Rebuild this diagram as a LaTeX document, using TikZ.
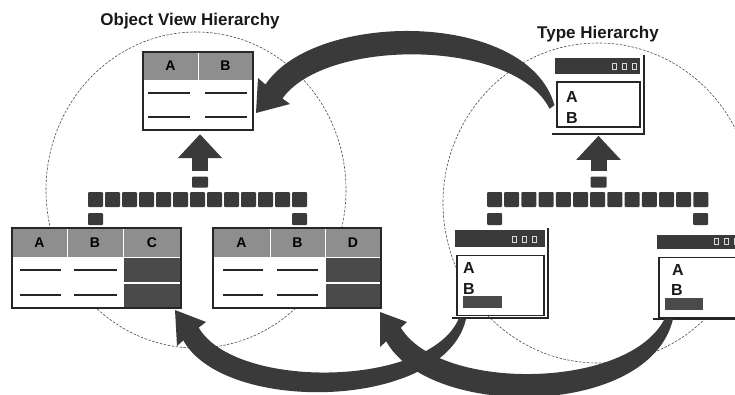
\documentclass[tikz,border=0pt]{standalone}
\usepackage{fontspec}
\setmainfont{Liberation Sans}
\usetikzlibrary{arrows.meta,calc}

\definecolor{inkgray}{HTML}{3A3A3A}
\definecolor{headgray}{HTML}{8E8E8E}
\definecolor{cellgray}{HTML}{4A4A4A}

\tikzset{
  hiercircle/.style={draw=black!70, line width=0.6pt, dash pattern=on 2.5pt off 1.5pt},
  title/.style={font=\fontsize{17}{19}\selectfont\bfseries, text=black!90, inner sep=0pt},
  tablebox/.style={fill=white, inner sep=0pt},
  tableframe/.style={draw=black!85, line width=1.6pt},
  headcell/.style={draw=white, line width=0.8pt, fill=headgray, inner sep=0pt,
    font=\fontsize{14}{14}\selectfont\bfseries, text=black},
  darkcell/.style={draw=white, line width=0.8pt, fill=cellgray, inner sep=0pt, minimum height=25pt},
  cellline/.style={draw=black!85, line width=1.5pt},
  busbox/.style={fill=inkgray, inner sep=0pt, minimum width=15pt, minimum height=15pt, rounded corners=1pt},
  dropbox/.style={busbox, minimum height=12pt},
  blockarrow/.style={draw=inkgray, line width=16pt, -{Triangle[length=24pt,width=43pt]}},
  titlebar/.style={fill=inkgray, inner sep=0pt},
  winbox/.style={draw=black!85, line width=1.6pt, fill=white, inner sep=0pt},
  winframe/.style={draw=black!85, line width=1.4pt},
  winletter/.style={font=\fontsize{16}{16}\selectfont\bfseries, text=black!90, inner sep=0pt},
  icon/.style={draw=white!85!black, line width=0.8pt, inner sep=0pt, minimum width=4pt, minimum height=6pt},
  curvearrow/.style={fill=inkgray},
}

\begin{document}
\begin{tikzpicture}[x=1pt,y=-1pt]
  \useasboundingbox (0,0) rectangle (735,394);
  \clip (0,0) rectangle (735,394);

  % the two hierarchies
  \draw[hiercircle] (196,190) ellipse [x radius=150, y radius=158];
  \draw[hiercircle] (598,203) ellipse [x radius=155, y radius=160];
  \node[title, anchor=base] (objTitle) at (190,25) {Object View Hierarchy};
  \node[title, anchor=base] (typeTitle) at (598,38) {Type Hierarchy};

  % object views
  \node[tablebox, minimum width=110pt, minimum height=78pt] (objTop) at (198,91) {};
  \begin{scope}[every node/.style={headcell, minimum width=55pt, minimum height=28pt}]
    \node (objTopA) at (170.5,66) {A};
    \node (objTopB) at (225.5,66) {B};
  \end{scope}
  \foreach \y in {93,117} {
    \draw[cellline] (148,\y) -- (190,\y);
    \draw[cellline] (205,\y) -- (247,\y);
  }
  \draw[tableframe] (objTop.north west) rectangle (objTop.south east);

  \node[tablebox, minimum width=169pt, minimum height=80pt] (objL) at (96.5,268) {};
  \begin{scope}[every node/.style={headcell, minimum height=29pt}]
    \node[minimum width=55pt] (objLA) at (39.5,242.5) {A};
    \node[minimum width=56pt] (objLB) at (95,242.5) {B};
    \node[minimum width=58pt] (objLC) at (152,242.5) {C};
  \end{scope}
  \node[darkcell, minimum width=58pt] (objLc1) at (152,269.5) {};
  \node[darkcell, minimum width=58pt] (objLc2) at (152,295.5) {};
  \foreach \y in {270,295} {
    \draw[cellline] (20,\y) -- (61,\y);
    \draw[cellline] (74,\y) -- (117,\y);
  }
  \draw[tableframe] (objL.north west) rectangle (objL.south east);

  \node[tablebox, minimum width=168pt, minimum height=80pt] (objR) at (297,268) {};
  \begin{scope}[every node/.style={headcell, minimum height=29pt}]
    \node[minimum width=57pt] (objRA) at (241.5,242.5) {A};
    \node[minimum width=55pt] (objRB) at (297.5,242.5) {B};
    \node[minimum width=56pt] (objRD) at (353,242.5) {D};
  \end{scope}
  \node[darkcell, minimum width=56pt] (objRd1) at (353,269.5) {};
  \node[darkcell, minimum width=56pt] (objRd2) at (353,295.5) {};
  \foreach \y in {270,295} {
    \draw[cellline] (223,\y) -- (263,\y);
    \draw[cellline] (277,\y) -- (318,\y);
  }
  \draw[tableframe] (objR.north west) rectangle (objR.south east);

  % buses
  \foreach \i in {0,...,12} {
    \node[busbox] (busL\i) at (95.5+17*\i,199.5) {};
    \node[busbox] (busR\i) at (494.5+17.2*\i,199.5) {};
  }
  \node[dropbox] (dropLa) at (95.5,219) {};
  \node[dropbox] (dropLb) at (299.5,219) {};
  \node[dropbox] (dropRa) at (494.5,219) {};
  \node[dropbox] (dropRb) at (700.5,219) {};
  \node[busbox, minimum width=16pt, minimum height=11pt] (sqTopL) at (200,182) {};
  \node[busbox, minimum width=16pt, minimum height=11pt] (sqTopR) at (598.5,182) {};

  % types
  \draw[winframe] (552,134) -- (644,134) -- (644,55);
  \node[titlebar, minimum width=85pt, minimum height=16pt] (typeTopBar) at (597.5,66) {};
  \node[winbox, minimum width=83pt, minimum height=45pt] (typeTop) at (598.5,104.5) {};
  \node[winletter] (typeTopA) at (572,97) {A};
  \node[winletter] (typeTopB) at (572,118) {B};
  \foreach \x in {614,624,634} \node[icon] at (\x,66) {};

  \draw[winframe] (452,318) -- (548,318) -- (548,228);
  \node[titlebar, minimum width=90pt, minimum height=17pt] (typeLBar) at (500,238.5) {};
  \node[winbox, minimum width=87pt, minimum height=60pt] (typeL) at (500.5,285.5) {};
  \node[winletter] (typeLA) at (469,268) {A};
  \node[winletter] (typeLB) at (469,289) {B};
  \node[darkcell, minimum width=40pt, minimum height=13pt] (typeLc) at (482,301.5) {};
  \foreach \x in {514,524,534} \node[icon] at (\x,239) {};

  \draw[winframe] (653,319) -- (750,319) -- (750,232);
  \node[titlebar, minimum width=90pt, minimum height=14pt] (typeRBar) at (702,241.5) {};
  \node[winbox, minimum width=87pt, minimum height=60pt] (typeR) at (702.5,287.5) {};
  \node[winletter] (typeRA) at (678,270) {A};
  \node[winletter] (typeRB) at (677,290) {B};
  \node[darkcell, minimum width=39pt, minimum height=13pt] (typeRc) at (683.5,303.5) {};
  \foreach \x in {716,726,736} \node[icon] at (\x,241.5) {};

  % up arrows
  \draw[blockarrow] ($(sqTopL.north)+(0,-5)$) -- ($(sqTopL |- objTop.south)+(0,4)$);
  \draw[blockarrow] ($(sqTopR.north)+(0,-5)$) -- ($(sqTopR |- typeTop.south)+(0,8)$);

  % curved arrows
  \coordinate (tailTopO) at (554.4,105.2);
  \coordinate (tailTopI) at (549.6,108.8);
  \coordinate (tipTop) at (256,113);
  \fill[curvearrow] (tailTopO) .. controls (528,10) and (315,10) .. (265.5,84.5)
    -- (258,78) -- (tipTop) -- (290,104) -- (282.5,98.5)
    .. controls (325,38) and (514,38) .. (tailTopI) -- cycle;

  \coordinate (tailAO) at (466,319);
  \coordinate (tailAI) at (459,318);
  \coordinate (tipA) at (175,310);
  \fill[curvearrow] (tailAO) .. controls (445,410) and (225,415) .. (183.3,340.4)
    -- (177,346) -- (tipA) -- (206,322) -- (198.7,327.6)
    .. controls (235,390) and (430,388) .. (tailAI) -- cycle;

  \coordinate (tailBO) at (673,319);
  \coordinate (tailBI) at (665,318);
  \coordinate (tipB) at (380,312);
  \fill[curvearrow] (tailBO) .. controls (650,418) and (430,420) .. (386.2,341.3)
    -- (380,347) -- (tipB) -- (407,322) -- (400.8,327.7)
    .. controls (440,392) and (630,390) .. (tailBI) -- cycle;
\end{tikzpicture}
\end{document}
